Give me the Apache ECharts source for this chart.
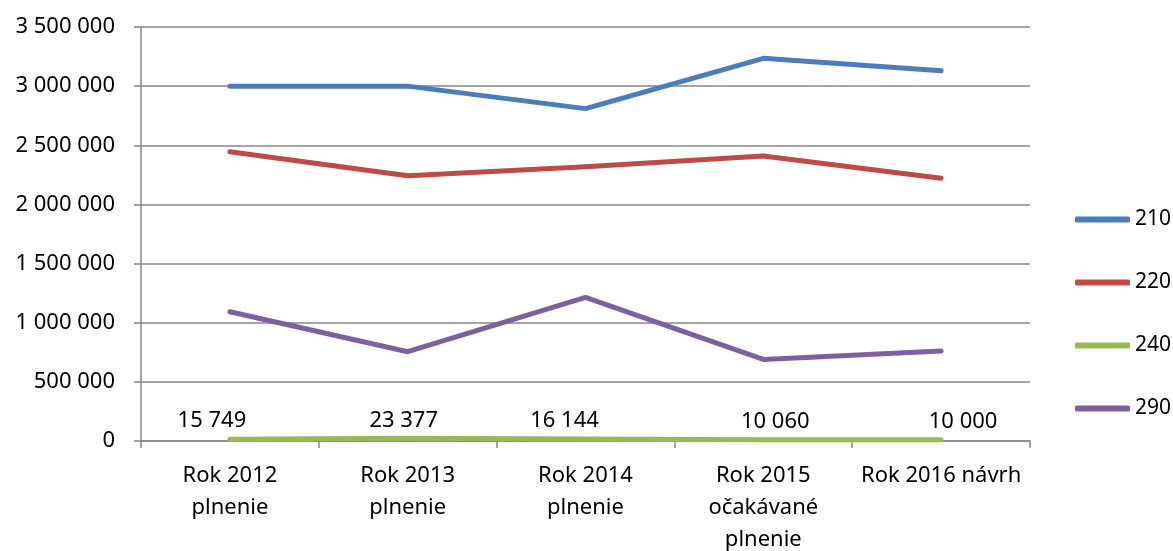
<!DOCTYPE html>
<html>
<head>
<meta charset="utf-8">
<script src="https://cdn.jsdelivr.net/npm/echarts@6/dist/echarts.min.js"></script>
<style>
  html, body { margin: 0; padding: 0; background: #fff; }
  #chart { width: 1173px; height: 551px; }
</style>
</head>
<body>
<div id="chart"></div>
<script>
var categories = ['Rok 2012\nplnenie', 'Rok 2013\nplnenie', 'Rok 2014\nplnenie', 'Rok 2015\nočakávané\nplnenie', 'Rok 2016 návrh'];
var seriesNames = ['210', '220', '240', '290'];
var values210 = [3000000, 3000000, 2810000, 3235000, 3130000];
var values220 = [2445000, 2242000, 2318000, 2410000, 2221000];
var values240 = [15749, 23377, 16144, 10060, 10000];
var values290 = [1093000, 755000, 1215000, 690000, 761000];

window.onload = function () {
	"use strict";
	var chart = echarts.init(document.getElementById('chart'));
	var font = 'Noto Sans';
	var axisGray = '#868686';

	function fmt(v) {
		return String(v).replace(/\B(?=(\d{3})+(?!\d))/g, ' ');
	}

	// Excel puts the green labels a little off centre
	var labelShift = [-18, -4, -21, 12, 22];

	function lineSeries(name, data, color, withLabels) {
		return {
			name: name,
			type: 'line',
			data: withLabels ? data.map(function (v, i) {
				return { value: v, label: { offset: [labelShift[i], 0] } };
			}) : data,
			symbol: withLabels ? 'circle' : 'none',
			symbolSize: 0,
			showAllSymbol: true,
			animation: false,
			lineStyle: { color: color, width: 5, cap: 'round', join: 'round' },
			itemStyle: { color: color },
			label: {
				show: withLabels,
				position: 'top',
				distance: 7,
				color: '#000',
				fontFamily: font,
				fontSize: 22,
				formatter: function (p) { return fmt(p.value); }
			}
		};
	}

	var option = {
		backgroundColor: '#fff',
		grid: { left: 141, right: 143, top: 27, bottom: 110, outerBoundsMode: 'none' },
		legend: {
			orient: 'vertical',
			left: 1075,
			top: 209,
			padding: 0,
			icon: 'roundRect',
			itemWidth: 55,
			itemHeight: 6,
			itemGap: 42,
			data: seriesNames,
			textStyle: { fontFamily: font, fontSize: 21, color: '#000' }
		},
		xAxis: {
			type: 'category',
			data: categories,
			boundaryGap: true,
			axisLine: { lineStyle: { color: axisGray, width: 1.5 } },
			axisTick: { show: true, length: 7, lineStyle: { color: axisGray, width: 1.5 } },
			axisLabel: {
				interval: 0,
				margin: 19,
				color: '#000',
				fontFamily: font,
				fontSize: 22,
				lineHeight: 32
			}
		},
		yAxis: {
			type: 'value',
			min: 0,
			max: 3500000,
			interval: 500000,
			axisLine: { show: true, lineStyle: { color: axisGray, width: 1.5 } },
			axisTick: { show: true, length: 7, lineStyle: { color: axisGray, width: 1.5 } },
			splitLine: { lineStyle: { color: axisGray, width: 1.5 } },
			axisLabel: {
				margin: 26,
				color: '#000',
				fontFamily: font,
				fontSize: 22,
				formatter: fmt
			}
		},
		series: [
			lineSeries(seriesNames[0], values210, '#4a7ebb', false),
			lineSeries(seriesNames[1], values220, '#be4b48', false),
			lineSeries(seriesNames[2], values240, '#98b954', true),
			lineSeries(seriesNames[3], values290, '#7d60a0', false)
		]
	};

	chart.setOption(option);
};
</script>
</body>
</html>
